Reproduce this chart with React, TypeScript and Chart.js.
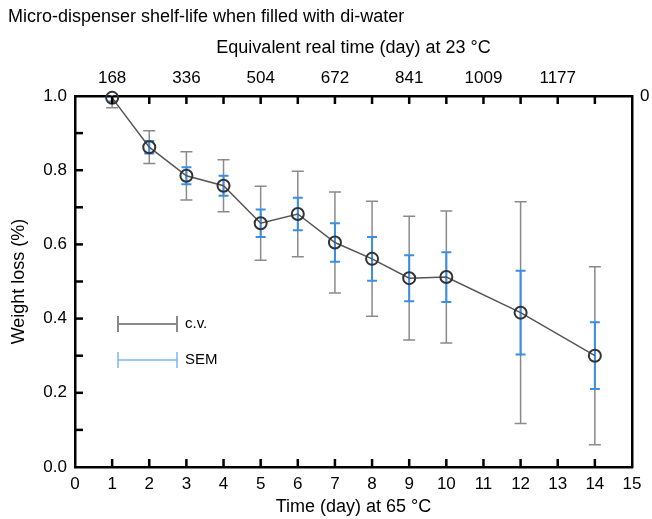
import React, { useEffect, useRef } from 'react';
import { Chart, registerables } from 'chart.js';

Chart.register(...registerables);

// ---- data ----
const days = [1, 2, 3, 4, 5, 6, 7, 8, 9, 10, 12, 14];
const weightLoss = [0.995, 0.862, 0.785, 0.758, 0.657, 0.682, 0.605, 0.561, 0.509, 0.512, 0.416, 0.3];
const cvHalf = [0.027, 0.044, 0.065, 0.07, 0.1, 0.115, 0.136, 0.155, 0.167, 0.178, 0.299, 0.24];
const semHalf = [0.01, 0.017, 0.023, 0.027, 0.037, 0.044, 0.052, 0.059, 0.062, 0.067, 0.113, 0.09];

const topTickDays = [1, 3, 5, 7, 9, 11, 13];
const topTickLabels = ['168', '336', '504', '672', '841', '1009', '1177'];
const minorXTicks = [1, 2, 3, 4, 5, 6, 7, 8, 9, 10, 11, 12, 13, 14];
const minorYTicks = [0.1, 0.2, 0.3, 0.4, 0.5, 0.6, 0.7, 0.8, 0.9];
const rightLabel = ['0'];
const legendLabels = ['c.v.', 'SEM'];

const titleText = 'Micro-dispenser shelf-life when filled with di-water';
const topAxisTitle = 'Equivalent real time (day) at 23 °C';
const bottomAxisTitle = 'Time (day) at 65 °C';
const leftAxisTitle = 'Weight loss (%)';

const FONT = "'Liberation Sans', Arial, Helvetica, sans-serif";
const CV_COLOR = '#8a8a8a';
const SEM_COLOR = '#3b8fe2';

const errorBarsPlugin = {
  id: 'errorBars',
  beforeDatasetsDraw(chart: any) {
    const { ctx, chartArea, scales } = chart;
    const x = scales.x;
    const y = scales.y;
    ctx.save();
    ctx.beginPath();
    ctx.rect(chartArea.left, chartArea.top - 1, chartArea.right - chartArea.left, chartArea.bottom - chartArea.top + 1);
    ctx.clip();
    const draw = (halves: number[], color: string, lw: number, cap: number) => {
      ctx.strokeStyle = color;
      ctx.lineWidth = lw;
      days.forEach((d, i) => {
        const px = x.getPixelForValue(d);
        const yt = y.getPixelForValue(weightLoss[i] + halves[i]);
        const yb = y.getPixelForValue(weightLoss[i] - halves[i]);
        ctx.beginPath();
        ctx.moveTo(px, yt);
        ctx.lineTo(px, yb);
        ctx.moveTo(px - cap, yt);
        ctx.lineTo(px + cap, yt);
        ctx.moveTo(px - cap, yb);
        ctx.lineTo(px + cap, yb);
        ctx.stroke();
      });
    };
    draw(cvHalf, CV_COLOR, 1.5, 6);
    draw(semHalf, SEM_COLOR, 2, 5);
    ctx.restore();
  },
};

const inwardTicksPlugin = {
  id: 'inwardTicks',
  afterDraw(chart: any) {
    const { ctx, chartArea, scales } = chart;
    ctx.save();
    ctx.strokeStyle = '#000';
    ctx.lineWidth = 2.5;
    const len = 8;
    minorXTicks.forEach((d) => {
      const px = scales.x.getPixelForValue(d);
      ctx.beginPath();
      ctx.moveTo(px, chartArea.bottom);
      ctx.lineTo(px, chartArea.bottom - len);
      ctx.moveTo(px, chartArea.top);
      ctx.lineTo(px, chartArea.top + len);
      ctx.stroke();
    });
    minorYTicks.forEach((v) => {
      const py = scales.y.getPixelForValue(v);
      ctx.beginPath();
      ctx.moveTo(chartArea.left, py);
      ctx.lineTo(chartArea.left + len, py);
      ctx.stroke();
    });
    ctx.restore();
  },
};

const customLegendPlugin = {
  id: 'customLegend',
  afterDraw(chart: any) {
    const { ctx, chartArea } = chart;
    const x0 = chartArea.left + 43;
    const x1 = chartArea.left + 102;
    const rows = [
      { y: chartArea.top + 228, color: CV_COLOR, lw: 2 },
      { y: chartArea.top + 264, color: '#7fb6ea', lw: 1.5 },
    ];
    ctx.save();
    rows.forEach((r, i) => {
      ctx.strokeStyle = r.color;
      ctx.lineWidth = r.lw;
      ctx.beginPath();
      ctx.moveTo(x0, r.y);
      ctx.lineTo(x1, r.y);
      ctx.moveTo(x0, r.y - 8);
      ctx.lineTo(x0, r.y + 8);
      ctx.moveTo(x1, r.y - 8);
      ctx.lineTo(x1, r.y + 8);
      ctx.stroke();
      ctx.fillStyle = '#000';
      ctx.font = `15px ${FONT}`;
      ctx.textAlign = 'left';
      ctx.textBaseline = 'middle';
      ctx.fillText(legendLabels[i], x1 + 8, r.y);
    });
    ctx.restore();
  },
};

const axisGrid = { display: false, drawTicks: false };
const axisBorder = { display: true, color: '#000', width: 2.5 };

export default function App() {
  const ref = useRef<HTMLCanvasElement | null>(null);

  useEffect(() => {
    if (!ref.current) return;
    Chart.defaults.font.family = FONT;
    Chart.defaults.color = '#000';
    const chart = new Chart(ref.current, {
      type: 'line',
      data: {
        datasets: [
          {
            label: 'Weight loss',
            data: days.map((d, i) => ({ x: d, y: weightLoss[i] })),
            borderColor: '#555',
            borderWidth: 1.5,
            pointRadius: 6,
            pointBorderWidth: 2,
            pointBorderColor: '#333',
            pointBackgroundColor: 'rgba(0,0,0,0)',
            tension: 0,
            clip: false as any,
            xAxisID: 'x',
            yAxisID: 'y',
          },
        ],
      },
      options: {
        animation: false,
        responsive: false,
        layout: { padding: { left: 8, top: 0, right: 0, bottom: 0 } },
        plugins: {
          legend: { display: false },
          tooltip: { enabled: false },
          title: {
            display: true,
            text: titleText,
            align: 'start',
            color: '#000',
            font: { size: 18, weight: 'normal', family: FONT },
            padding: { top: 6, bottom: 2 },
          },
        },
        scales: {
          x: {
            type: 'linear',
            position: 'bottom',
            min: 0,
            max: 15,
            grid: axisGrid,
            border: axisBorder,
            ticks: { stepSize: 1, autoSkip: false, maxRotation: 0, padding: 7, font: { size: 17 }, color: '#000' },
            title: { display: true, text: bottomAxisTitle, font: { size: 18 }, color: '#000', padding: { top: 0, bottom: 1 } },
            afterFit(s: any) { s.height = 52; },
          },
          x2: {
            type: 'linear',
            position: 'top',
            min: 0,
            max: 15,
            grid: axisGrid,
            border: axisBorder,
            afterBuildTicks(s: any) { s.ticks = topTickDays.map((v) => ({ value: v })); },
            ticks: {
              autoSkip: false,
              maxRotation: 0,
              padding: 7,
              font: { size: 17 },
              color: '#000',
              callback: (_v: any, i: number) => topTickLabels[i],
            },
            title: { display: true, text: topAxisTitle, font: { size: 18 }, color: '#000', padding: { top: 8, bottom: 0 } },
            afterFit(s: any) { s.height = 66.4; },
          },
          y: {
            type: 'linear',
            position: 'left',
            min: 0,
            max: 1,
            grid: axisGrid,
            border: axisBorder,
            ticks: { stepSize: 0.2, padding: 8, font: { size: 17 }, color: '#000', callback: (v: any) => Number(v).toFixed(1) },
            title: { display: true, text: leftAxisTitle, font: { size: 18 }, color: '#000', padding: { top: 0, bottom: 0 } },
            afterFit(s: any) { s.width = 67; },
          },
          y2: {
            type: 'linear',
            position: 'right',
            min: 0,
            max: 1,
            grid: axisGrid,
            border: axisBorder,
            afterBuildTicks(s: any) { s.ticks = [{ value: 1 }]; },
            ticks: { padding: 8, font: { size: 17 }, color: '#000', callback: () => rightLabel[0] },
            afterFit(s: any) { s.width = 20; },
          },
        },
      } as any,
      plugins: [errorBarsPlugin, inwardTicksPlugin, customLegendPlugin],
    });
    return () => chart.destroy();
  }, []);

  return (
    <div style={{ position: 'absolute', left: 0, top: 0, width: 652, height: 519, background: '#fff' }}>
      <canvas ref={ref} width={652} height={519} />
    </div>
  );
}
